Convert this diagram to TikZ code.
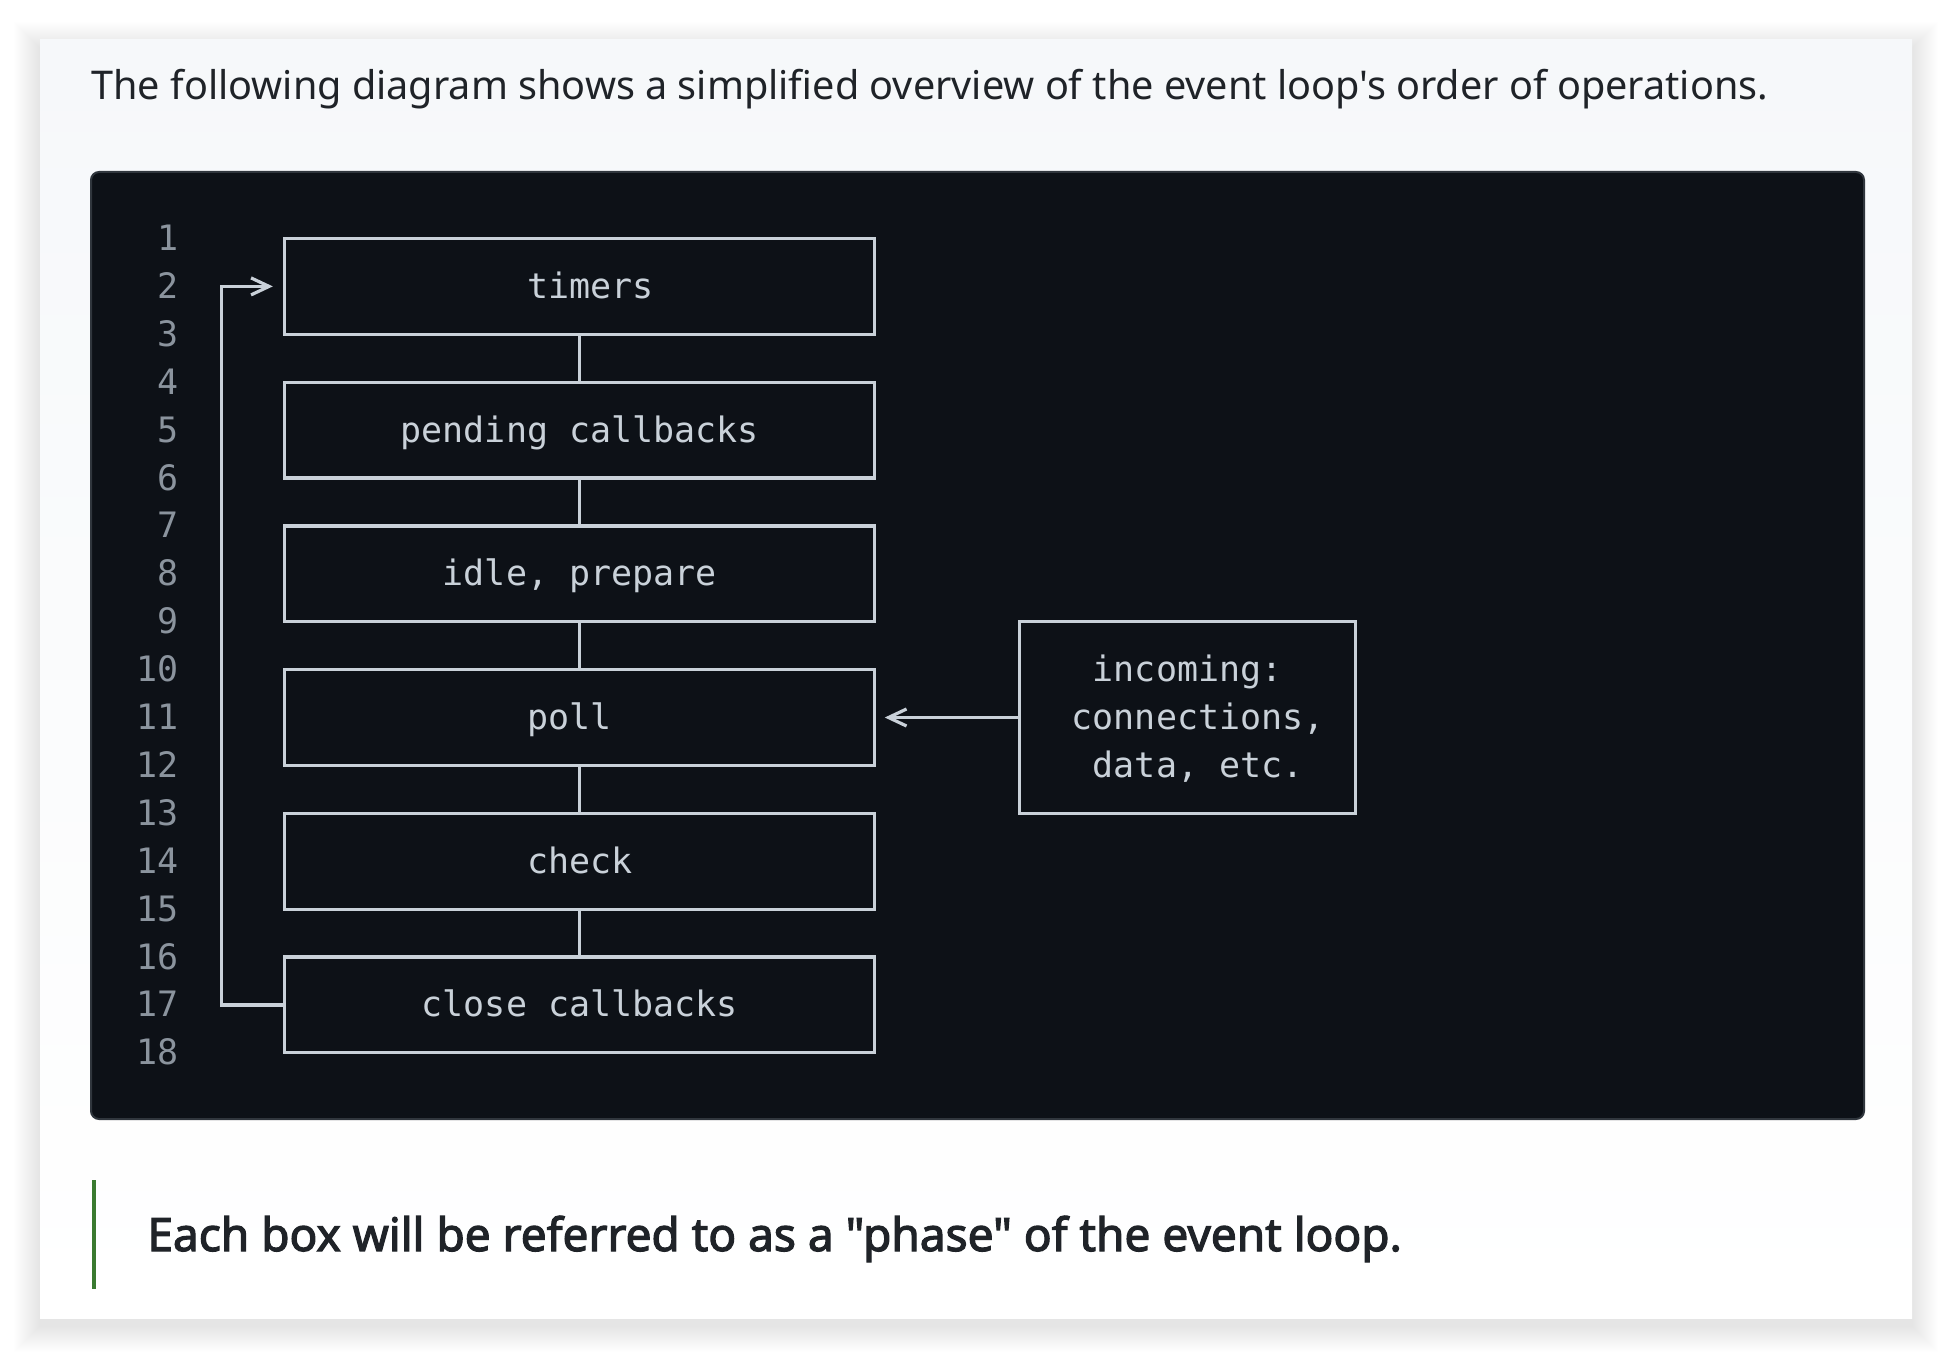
\documentclass[tikz,border=0pt]{standalone}
\usepackage{fontspec}
\setmainfont{Noto Sans}[Ligatures=TeXOff]
\newfontfamily\notefont{Noto Sans}[Ligatures=TeXOff, FakeBold=2.6]
\newfontfamily\codefont{DejaVu Sans Mono}
\usetikzlibrary{arrows.meta}
\definecolor{codebg}{HTML}{0D1117}
\definecolor{codeborder}{HTML}{30363D}
\definecolor{codefg}{HTML}{C9D1D9}
\definecolor{lnum}{HTML}{8B949E}
\definecolor{ink}{HTML}{1F2328}
\definecolor{quotebar}{HTML}{3A7A30}
\definecolor{cardtop}{HTML}{F6F8FA}
\begin{document}
\begin{tikzpicture}[x=0.5pt,y=-0.5pt,
  phase/.style={draw=codefg, line width=1.6pt, inner sep=0pt, outer sep=0pt,
    minimum width=294.98pt, minimum height=47.9pt, text=codefg,
    font=\codefont\fontsize{17.5pt}{23.95pt}\selectfont,
    text height=15pt, text depth=3pt, align=center},
  link/.style={draw=codefg, line width=1.6pt},
  flow/.style={link, -{Straight Barb[length=9pt,width=8.5pt]}},
  lineno/.style={anchor=base east, inner sep=0pt, text=lnum,
    font=\codefont\fontsize{17.5pt}{23.95pt}\selectfont},
  prose/.style={anchor=base west, inner sep=0pt, text=ink,
    font=\fontsize{19.8pt}{24pt}\selectfont}
]
\useasboundingbox (0,0) rectangle (1952,1358);
\fill[white] (0,0) rectangle (1952,1358);
% card shadow
\foreach \i in {1,...,26}{
  \fill[black, opacity=0.0045] ({40-\i},{48-\i}) rectangle ({1912+\i},{1326+\i});
}
% card
\shade[top color=cardtop, bottom color=white] (40,40) rectangle (1912,1318);
% heading
\node[prose] (heading) at (91,100) {The following diagram shows a simplified overview of the event loop's order of operations.};
% code block
\draw[fill=codebg, draw=codeborder, line width=1pt, rounded corners=4pt] (91,172) rectangle (1864,1119);
\foreach \k in {1,...,18}{
  \node[lineno] (ln\k) at (179,{238.5+47.9*(\k-1)+12}) {\k};
}
% phases
\node[phase] (timers)  at (579.79,286.4)  {\phantom{x}timers};
\node[phase] (pending) at (579.79,430.1)  {pending callbacks};
\node[phase] (idle)    at (579.79,573.8)  {idle, prepare};
\node[phase] (poll)    at (579.79,717.5)  {poll\phantom{x}};
\node[phase] (check)   at (579.79,861.2)  {check};
\node[phase] (close)   at (579.79,1004.9) {close callbacks};
\node[phase, minimum width=168.05pt, minimum height=95.8pt, text height=62.9pt, text depth=3pt] (incoming) at (1187.65,717.5)
  {incoming:\\\phantom{x}connections,\\\phantom{x}data, etc.};
% connectors
\draw[link] (timers.south) -- (pending.north);
\draw[link] (pending.south) -- (idle.north);
\draw[link] (idle.south) -- (poll.north);
\draw[link] (poll.south) -- (check.north);
\draw[link] (check.south) -- (close.north);
\coordinate (loopturn) at (221.6,286.4);
\draw[flow, shorten >=6pt] (close.west) -| (loopturn) -- (timers.west);
\draw[flow, shorten >=5pt] (incoming.west) -- (poll.east);
% note
\fill[quotebar] (92,1180) rectangle (96,1289);
\node[prose, font=\notefont\fontsize{23pt}{26pt}\selectfont] (note) at (147,1251) {Each box will be referred to as a "phase" of the event loop.};
\end{tikzpicture}
\end{document}
